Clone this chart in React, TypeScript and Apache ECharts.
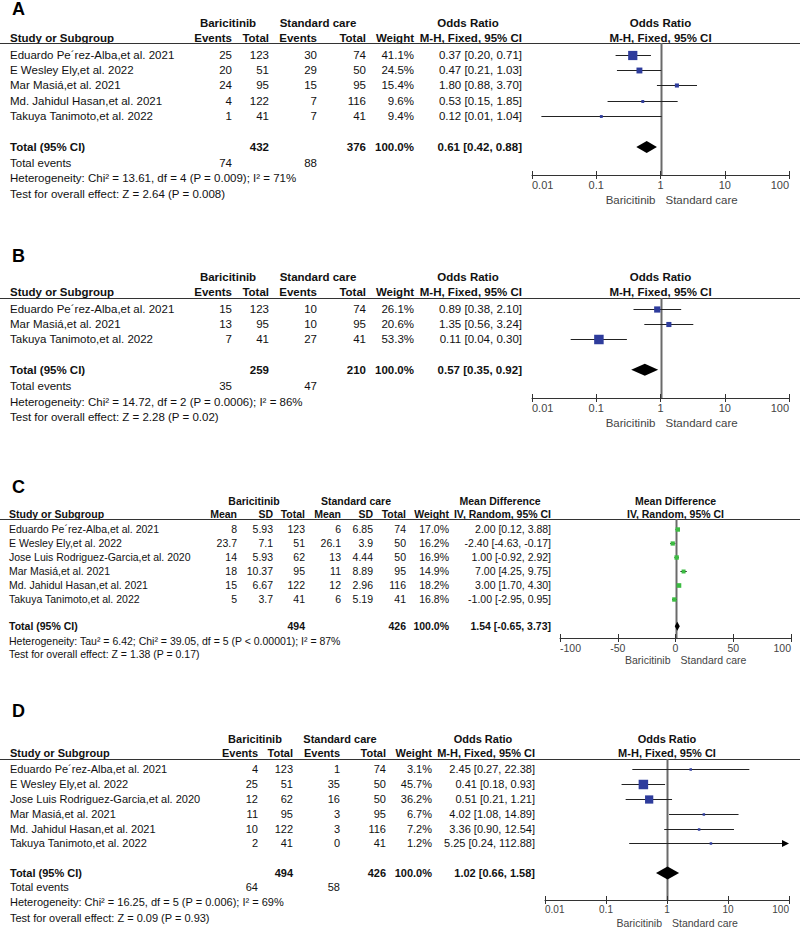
import React, { useEffect, useRef } from "react";
import * as echarts from "echarts";

// ---------------- Panel A ----------------
const studiesA = [
  "Eduardo Pe´rez-Alba,et al. 2021",
  "E Wesley Ely,et al. 2022",
  "Mar Masiá,et al. 2021",
  "Md. Jahidul Hasan,et al. 2021",
  "Takuya Tanimoto,et al. 2022",
];
const bariEventsA = [25, 20, 24, 4, 1];
const bariTotalA = [123, 51, 95, 122, 41];
const scEventsA = [30, 29, 15, 7, 7];
const scTotalA = [74, 50, 95, 116, 41];
const weightA = [41.1, 24.5, 15.4, 9.6, 9.4];
const estA = [0.37, 0.47, 1.8, 0.53, 0.12];
const lowA = [0.2, 0.21, 0.88, 0.15, 0.014];
const highA = [0.71, 1.03, 3.7, 1.85, 1.04];
const pooledA = [0.61, 0.42, 0.88];
const totalsA = [432, 376];
const totalEventsA = [74, 88];
const heteroA = "Heterogeneity: Chi² = 13.61, df = 4 (P = 0.009); I² = 71%";
const overallA = "Test for overall effect: Z = 2.64 (P = 0.008)";

// ---------------- Panel B ----------------
const studiesB = [
  "Eduardo Pe´rez-Alba,et al. 2021",
  "Mar Masiá,et al. 2021",
  "Takuya Tanimoto,et al. 2022",
];
const bariEventsB = [15, 13, 7];
const bariTotalB = [123, 95, 41];
const scEventsB = [10, 10, 27];
const scTotalB = [74, 95, 41];
const weightB = [26.1, 20.6, 53.3];
const estB = [0.89, 1.35, 0.11];
const lowB = [0.38, 0.56, 0.04];
const highB = [2.1, 3.24, 0.3];
const pooledB = [0.57, 0.35, 0.92];
const totalsB = [259, 210];
const totalEventsB = [35, 47];
const heteroB = "Heterogeneity: Chi² = 14.72, df = 2 (P = 0.0006); I² = 86%";
const overallB = "Test for overall effect: Z = 2.28 (P = 0.02)";

// ---------------- Panel C ----------------
const studiesC = [
  "Eduardo Pe´rez-Alba,et al. 2021",
  "E Wesley Ely,et al. 2022",
  "Jose Luis Rodriguez-Garcia,et al. 2020",
  "Mar Masiá,et al. 2021",
  "Md. Jahidul Hasan,et al. 2021",
  "Takuya Tanimoto,et al. 2022",
];
const bariMeanC = [8, 23.7, 14, 18, 15, 5];
const bariSdC = [5.93, 7.1, 5.93, 10.37, 6.67, 3.7];
const bariTotalC = [123, 51, 62, 95, 122, 41];
const scMeanC = [6, 26.1, 13, 11, 12, 6];
const scSdC = [6.85, 3.9, 4.44, 8.89, 2.96, 5.19];
const scTotalC = [74, 50, 50, 95, 116, 41];
const weightC = [17.0, 16.2, 16.9, 14.9, 18.2, 16.8];
const estC = [2.0, -2.4, 1.0, 7.0, 3.0, -1.0];
const lowC = [0.12, -4.63, -0.92, 4.25, 1.7, -2.95];
const highC = [3.88, -0.17, 2.92, 9.75, 4.3, 0.95];
const pooledC = [1.54, -0.65, 3.73];
const totalsC = [494, 426];
const heteroC = "Heterogeneity: Tau² = 6.42; Chi² = 39.05, df = 5 (P < 0.00001); I² = 87%";
const overallC = "Test for overall effect: Z = 1.38 (P = 0.17)";

// ---------------- Panel D ----------------
const studiesD = [
  "Eduardo Pe´rez-Alba,et al. 2021",
  "E Wesley Ely,et al. 2022",
  "Jose Luis Rodriguez-Garcia,et al. 2020",
  "Mar Masiá,et al. 2021",
  "Md. Jahidul Hasan,et al. 2021",
  "Takuya Tanimoto,et al. 2022",
];
const bariEventsD = [4, 25, 12, 11, 10, 2];
const bariTotalD = [123, 51, 62, 95, 122, 41];
const scEventsD = [1, 35, 16, 3, 3, 0];
const scTotalD = [74, 50, 50, 95, 116, 41];
const weightD = [3.1, 45.7, 36.2, 6.7, 7.2, 1.2];
const estD = [2.45, 0.41, 0.51, 4.02, 3.36, 5.25];
const lowD = [0.27, 0.18, 0.21, 1.08, 0.9, 0.24];
const highD = [22.38, 0.93, 1.21, 14.89, 12.54, 112.88];
const pooledD = [1.02, 0.66, 1.58];
const totalsD = [494, 426];
const totalEventsD = [64, 58];
const heteroD = "Heterogeneity: Chi² = 16.25, df = 5 (P = 0.006); I² = 69%";
const overallD = "Test for overall effect: Z = 0.09 (P = 0.93)";

// ---------------- Axis ticks ----------------
const orTicks = [0.01, 0.1, 1, 10, 100];
const mdTicks = [-100, -50, 0, 50, 100];

// ---------------- helpers ----------------
const FONT = '"Liberation Sans", Arial, Helvetica, sans-serif';
const BLUE = "#2e3c9c";
const GREEN = "#3cbc42";
const f2 = (v: number) => v.toFixed(2);
const ciText = (e: number, l: number, h: number) => `${f2(e)} [${f2(l)}, ${f2(h)}]`;
const pct = (w: number) => `${w.toFixed(1)}%`;
const str = (v: number) => String(v);
const ciCol = (e: number[], l: number[], h: number[]) => e.map((v, i) => ciText(v, l[i], h[i]));

type Panel = {
  letter: string; letterY: number; fs: number; tickFs: number; sideFs: number;
  head1: number; head2: number; rule: number; row0: number; pitch: number; totalIdx: number;
  eventsY: number | null; footY: number[]; nameX: number;
  colRight: number[]; groupCenter: number[]; ciCenter: number;
  plotLeft: number; plotRight: number; axisY: number; sideY: number; diamondH: number;
  scale: "log" | "value"; ticks: number[]; nullValue: number; markColor: string;
  names: string[]; headers: string[]; cols: string[][]; totalRow: string[]; eventsRow: string[] | null;
  groups: string[]; ciTitle: string; ciSub: string; footers: string[];
  est: number[]; low: number[]; high: number[]; weight: number[]; pooled: number[];
};

const panelA: Panel = {
  letter: "A", letterY: 9, fs: 11.5, tickFs: 11, sideFs: 11.5,
  head1: 23, head2: 38, rule: 43, row0: 54.5, pitch: 15.4, totalIdx: 6,
  eventsY: 163, footY: [178, 194], nameX: 10,
  colRight: [232, 269, 317, 366, 414, 522], groupCenter: [228, 318], ciCenter: 468,
  plotLeft: 532, plotRight: 789, axisY: 175, sideY: 200, diamondH: 6,
  scale: "log", ticks: orTicks, nullValue: 1, markColor: BLUE,
  names: studiesA,
  headers: ["Events", "Total", "Events", "Total", "Weight", "M-H, Fixed, 95% CI"],
  cols: [bariEventsA.map(str), bariTotalA.map(str), scEventsA.map(str), scTotalA.map(str), weightA.map(pct), ciCol(estA, lowA, highA)],
  totalRow: ["", str(totalsA[0]), "", str(totalsA[1]), pct(100), ciText(pooledA[0], pooledA[1], pooledA[2])],
  eventsRow: [str(totalEventsA[0]), "", str(totalEventsA[1]), "", "", ""],
  groups: ["Baricitinib", "Standard care"], ciTitle: "Odds Ratio", ciSub: "M-H, Fixed, 95% CI",
  footers: [heteroA, overallA],
  est: estA, low: lowA, high: highA, weight: weightA, pooled: pooledA,
};

const panelB: Panel = {
  letter: "B", letterY: 256, fs: 11.5, tickFs: 11, sideFs: 11.5,
  head1: 277, head2: 292, rule: 298, row0: 309, pitch: 15.2, totalIdx: 4,
  eventsY: 386, footY: [402, 417], nameX: 10,
  colRight: [232, 269, 317, 366, 414, 522], groupCenter: [228, 318], ciCenter: 468,
  plotLeft: 532, plotRight: 789, axisY: 398, sideY: 423, diamondH: 6,
  scale: "log", ticks: orTicks, nullValue: 1, markColor: BLUE,
  names: studiesB,
  headers: ["Events", "Total", "Events", "Total", "Weight", "M-H, Fixed, 95% CI"],
  cols: [bariEventsB.map(str), bariTotalB.map(str), scEventsB.map(str), scTotalB.map(str), weightB.map(pct), ciCol(estB, lowB, highB)],
  totalRow: ["", str(totalsB[0]), "", str(totalsB[1]), pct(100), ciText(pooledB[0], pooledB[1], pooledB[2])],
  eventsRow: [str(totalEventsB[0]), "", str(totalEventsB[1]), "", "", ""],
  groups: ["Baricitinib", "Standard care"], ciTitle: "Odds Ratio", ciSub: "M-H, Fixed, 95% CI",
  footers: [heteroB, overallB],
  est: estB, low: lowB, high: highB, weight: weightB, pooled: pooledB,
};

const panelC: Panel = {
  letter: "C", letterY: 487, fs: 10.5, tickFs: 10.5, sideFs: 10.5,
  head1: 501, head2: 514, rule: 519, row0: 529.3, pitch: 13.85, totalIdx: 7,
  eventsY: null, footY: [641, 654], nameX: 9,
  colRight: [237, 273, 305, 341, 373, 406, 449, 551], groupCenter: [254, 356], ciCenter: 500,
  plotLeft: 560, plotRight: 791, axisY: 638, sideY: 660, diamondH: 4.5,
  scale: "value", ticks: mdTicks, nullValue: 0, markColor: GREEN,
  names: studiesC,
  headers: ["Mean", "SD", "Total", "Mean", "SD", "Total", "Weight", "IV, Random, 95% CI"],
  cols: [bariMeanC.map(str), bariSdC.map(str), bariTotalC.map(str), scMeanC.map(str), scSdC.map(str), scTotalC.map(str), weightC.map(pct), ciCol(estC, lowC, highC)],
  totalRow: ["", "", str(totalsC[0]), "", "", str(totalsC[1]), pct(100), ciText(pooledC[0], pooledC[1], pooledC[2])],
  eventsRow: null,
  groups: ["Baricitinib", "Standard care"], ciTitle: "Mean Difference", ciSub: "IV, Random, 95% CI",
  footers: [heteroC, overallC],
  est: estC, low: lowC, high: highC, weight: weightC, pooled: pooledC,
};

const panelD: Panel = {
  letter: "D", letterY: 711, fs: 11, tickFs: 10, sideFs: 10.5,
  head1: 739, head2: 753, rule: 759, row0: 769.3, pitch: 14.8, totalIdx: 7,
  eventsY: 887, footY: [902, 918], nameX: 10,
  colRight: [258, 293, 340, 386, 432, 535], groupCenter: [255, 340], ciCenter: 483,
  plotLeft: 545, plotRight: 789, axisY: 900, sideY: 923, diamondH: 6.5,
  scale: "log", ticks: orTicks, nullValue: 1, markColor: BLUE,
  names: studiesD,
  headers: ["Events", "Total", "Events", "Total", "Weight", "M-H, Fixed, 95% CI"],
  cols: [bariEventsD.map(str), bariTotalD.map(str), scEventsD.map(str), scTotalD.map(str), weightD.map(pct), ciCol(estD, lowD, highD)],
  totalRow: ["", str(totalsD[0]), "", str(totalsD[1]), pct(100), ciText(pooledD[0], pooledD[1], pooledD[2])],
  eventsRow: [str(totalEventsD[0]), "", str(totalEventsD[1]), "", "", ""],
  groups: ["Baricitinib", "Standard care"], ciTitle: "Odds Ratio", ciSub: "M-H, Fixed, 95% CI",
  footers: [heteroD, overallD],
  est: estD, low: lowD, high: highD, weight: weightD, pooled: pooledD,
};

const panels = [panelA, panelB, panelC, panelD];

const fmtTick = (p: Panel) => (v: number) => {
  if (p.scale === "log") return v >= 1 ? String(Math.round(v)) : String(Number(v.toPrecision(1)));
  return String(Math.round(v));
};

const markSize = (w: number) => Math.max(2.5, Math.min(9.5, 0.2 * w + 1));

// study rows: whisker + weighted square
const renderStudy = (color: string) => (params: any, api: any) => {
  const idx = api.value(3);
  const pe = api.coord([api.value(0), idx]);
  const pl = api.coord([api.value(1), idx]);
  const ph = api.coord([api.value(2), idx]);
  const cs = params.coordSys;
  const xMin = cs.x;
  const xMax = cs.x + cs.width;
  const y = Math.round(pe[1]) + 0.5;
  const x1 = Math.max(pl[0], xMin);
  const over = ph[0] > xMax;
  const x2 = Math.min(ph[0], xMax);
  const s = markSize(api.value(4));
  const children: any[] = [
    { type: "line", shape: { x1, y1: y, x2: over ? xMax - 5 : x2, y2: y }, style: { stroke: "#222", lineWidth: 1 } },
    { type: "rect", shape: { x: pe[0] - s / 2, y: y - s / 2, width: s, height: s }, style: { fill: color } },
  ];
  if (over) {
    children.push({
      type: "polygon",
      shape: { points: [[xMax, y], [xMax - 7, y - 3.5], [xMax - 7, y + 3.5]] },
      style: { fill: "#000" },
    });
  }
  return { type: "group", children };
};

const renderDiamond = (h: number) => (params: any, api: any) => {
  const idx = api.value(3);
  const pe = api.coord([api.value(0), idx]);
  const pl = api.coord([api.value(1), idx]);
  const ph = api.coord([api.value(2), idx]);
  const y = pe[1];
  const halfW = Math.max((ph[0] - pl[0]) / 2, 1.5);
  const cx = (pl[0] + ph[0]) / 2;
  return {
    type: "polygon",
    shape: { points: [[cx - halfW, y], [pe[0], y - h], [cx + halfW, y], [pe[0], y + h]] },
    style: { fill: "#000" },
  };
};

function buildOption() {
  const axisType = (p: Panel) =>
    p.scale === "log"
      ? { type: "log", logBase: 10, min: p.ticks[0], max: p.ticks[p.ticks.length - 1], splitNumber: p.ticks.length - 1 }
      : { type: "value", min: p.ticks[0], max: p.ticks[p.ticks.length - 1], interval: p.ticks[1] - p.ticks[0] };
  const yMin = (p: Panel) => (p.rule - p.row0) / p.pitch;
  const yMax = (p: Panel) => (p.axisY - p.row0) / p.pitch;

  return {
    animation: false,
    backgroundColor: "#ffffff",
    grid: panels.map((p) => ({
      left: p.plotLeft,
      top: p.rule,
      width: p.plotRight - p.plotLeft,
      height: p.axisY - p.rule,
      outerBoundsMode: "none",
      containLabel: false,
    })),
    xAxis: panels.flatMap((p, i) => [
      {
        ...axisType(p),
        gridIndex: i,
        position: "bottom",
        axisLine: { show: true, onZero: false, lineStyle: { color: "#333", width: 1 } },
        axisTick: { show: true, inside: false, length: 4, lineStyle: { color: "#333", width: 1 } },
        axisLabel: {
          show: true,
          fontSize: p.tickFs,
          fontFamily: FONT,
          color: "#444",
          margin: 4,
          alignMinLabel: "left",
          alignMaxLabel: "right",
          formatter: fmtTick(p),
        },
        splitLine: { show: false },
      },
      {
        ...axisType(p),
        gridIndex: i,
        position: "bottom",
        axisLine: { show: false, onZero: false },
        axisTick: { show: true, inside: true, length: 4, lineStyle: { color: "#333", width: 1 } },
        axisLabel: { show: false },
        splitLine: { show: false },
      },
    ]),
    yAxis: panels.map((p, i) => ({
      type: "value",
      gridIndex: i,
      inverse: true,
      min: yMin(p),
      max: yMax(p),
      show: false,
    })),
    series: panels.flatMap((p, i) => [
      {
        type: "custom",
        coordinateSystem: "cartesian2d",
        xAxisIndex: 2 * i,
        yAxisIndex: i,
        silent: true,
        clip: false,
        encode: { x: 0, y: 3 },
        data: p.est.map((e, k) => [e, p.low[k], p.high[k], k, p.weight[k]]),
        renderItem: renderStudy(p.markColor),
        z: 2,
      },
      {
        type: "custom",
        coordinateSystem: "cartesian2d",
        xAxisIndex: 2 * i,
        yAxisIndex: i,
        silent: true,
        clip: false,
        encode: { x: 0, y: 3 },
        data: [[p.pooled[0], p.pooled[1], p.pooled[2], p.totalIdx]],
        renderItem: renderDiamond(p.diamondH),
        z: 3,
      },
    ]),
  };
}

const txt = (text: string, x: number, y: number, align: string, fs: number, bold = false, color = "#111") => ({
  type: "text",
  x,
  y,
  silent: true,
  style: {
    text,
    x: 0,
    y: 0,
    fill: color,
    font: `${bold ? "bold " : ""}${fs}px ${FONT}`,
    textAlign: align,
    textVerticalAlign: "middle",
  },
});

function buildGraphics(chart: any) {
  const els: any[] = [];
  panels.forEach((p, i) => {
    const fs = p.fs;
    els.push(txt(p.letter, 12, p.letterY, "left", 18, true, "#000"));
    els.push(txt(p.groups[0], p.groupCenter[0], p.head1, "center", fs, true));
    els.push(txt(p.groups[1], p.groupCenter[1], p.head1, "center", fs, true));
    els.push(txt(p.ciTitle, p.ciCenter, p.head1, "center", fs, true));
    const plotMid = (p.plotLeft + p.plotRight) / 2;
    els.push(txt(p.ciTitle, plotMid, p.head1, "center", fs, true));
    els.push(txt("Study or Subgroup", p.nameX, p.head2, "left", fs, true));
    p.headers.forEach((h, c) => els.push(txt(h, p.colRight[c], p.head2, "right", fs, true)));
    els.push(txt(p.ciSub, plotMid, p.head2, "center", fs, true));
    els.push({
      type: "line",
      silent: true,
      shape: { x1: 0, y1: p.rule + 0.5, x2: 800, y2: p.rule + 0.5 },
      style: { stroke: "#333", lineWidth: 1 },
    });
    // line of no effect, placed through the x axis scale
    const nullX = chart.convertToPixel({ xAxisIndex: 2 * i }, p.nullValue);
    const nx = Math.round(nullX) + 0.5;
    els.push({
      type: "line",
      silent: true,
      shape: { x1: nx, y1: p.rule, x2: nx, y2: p.axisY },
      style: { stroke: "#6a6a6a", lineWidth: 2 },
    });
    p.names.forEach((n, k) => {
      const y = p.row0 + k * p.pitch;
      els.push(txt(n, p.nameX, y, "left", fs));
      p.cols.forEach((col, c) => els.push(txt(col[k], p.colRight[c], y, "right", fs)));
    });
    const ty = p.row0 + p.totalIdx * p.pitch;
    els.push(txt("Total (95% CI)", p.nameX, ty, "left", fs, true));
    p.totalRow.forEach((v, c) => {
      if (v) els.push(txt(v, p.colRight[c], ty, "right", fs, true));
    });
    if (p.eventsRow && p.eventsY !== null) {
      els.push(txt("Total events", p.nameX, p.eventsY, "left", fs));
      p.eventsRow.forEach((v, c) => {
        if (v) els.push(txt(v, p.colRight[c], p.eventsY as number, "right", fs));
      });
    }
    p.footers.forEach((f, k) => els.push(txt(f, p.nameX, p.footY[k], "left", fs)));
    els.push(txt("Baricitinib", nullX - 5, p.sideY, "right", p.sideFs, false, "#444"));
    els.push(txt("Standard care", nullX + 5, p.sideY, "left", p.sideFs, false, "#444"));
  });
  return els;
}

export default function App() {
  const ref = useRef<HTMLDivElement>(null);
  useEffect(() => {
    if (!ref.current) return;
    const chart = echarts.init(ref.current, null, { renderer: "svg" });
    chart.setOption(buildOption() as any);
    chart.setOption({ graphic: { elements: buildGraphics(chart) } } as any);
    return () => chart.dispose();
  }, []);
  return (
    <div
      ref={ref}
      style={{ position: "absolute", left: 0, top: 0, width: 800, height: 928, background: "#fff" }}
    />
  );
}
